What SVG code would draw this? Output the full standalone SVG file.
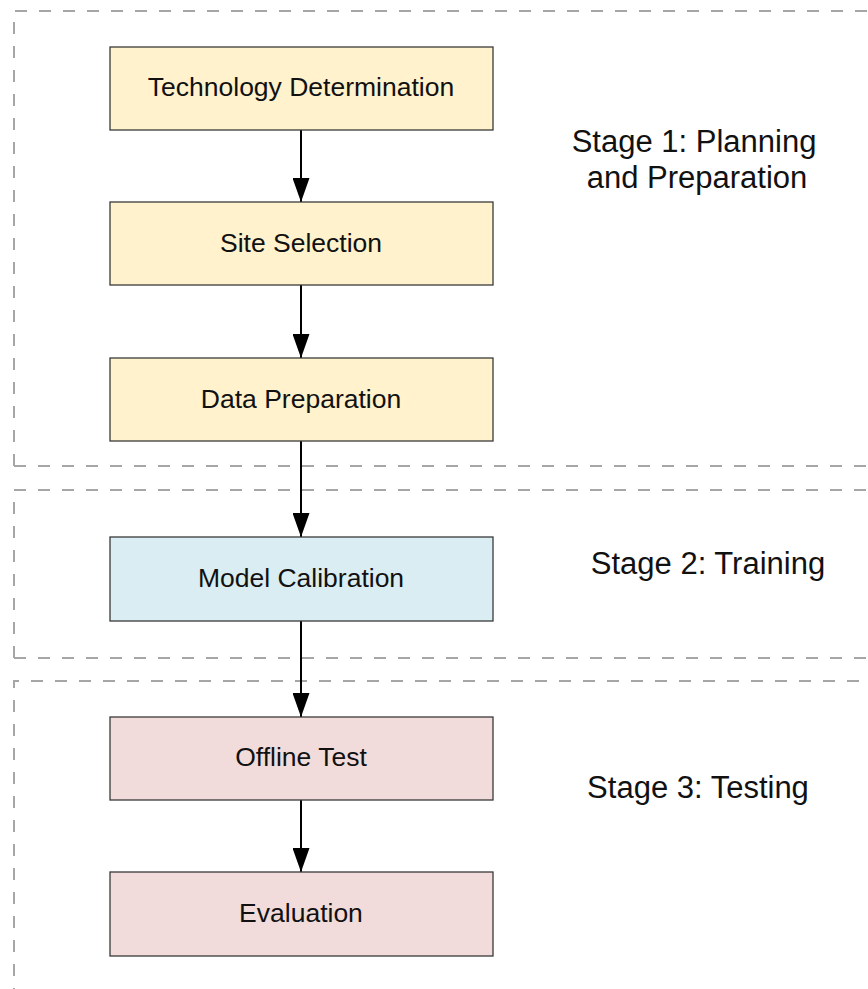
<svg xmlns="http://www.w3.org/2000/svg" width="868" height="989" viewBox="0 0 868 989">
<style>
.stage{fill:none;stroke:#a6a6a6;stroke-width:2;stroke-dasharray:12 12;}
.box{stroke:#3a3a3a;stroke-width:1.3;}
.y{fill:#fff2cc;}
.b{fill:#daedf2;}
.p{fill:#f2dcdb;}
.lbl{font-family:"Liberation Sans",Arial,sans-serif;font-size:26.5px;fill:#111;text-anchor:middle;}
.st{font-family:"Liberation Sans",Arial,sans-serif;font-size:31px;fill:#111;text-anchor:middle;}
.edge{stroke:#000;stroke-width:2;fill:none;marker-end:url(#ah);}
</style>
<defs>
<marker id="ah" markerUnits="userSpaceOnUse" markerWidth="24" markerHeight="17" refX="24" refY="8.5" orient="auto" viewBox="0 0 24 17">
<path d="M0,0 L24,8.5 L0,17 Z" fill="#000"/>
</marker>
</defs>
<rect width="868" height="989" fill="#fff"/>
<g id="stages">
<path class="stage" d="M14,466 L14,11 L900,11 M14,466 L900,466"/>
<path class="stage" d="M14,658 L14,490 L900,490 M14,658 L900,658"/>
<path class="stage" d="M14,1000 L14,681 L900,681"/>
</g>
<g id="stage-labels">
<text class="st" x="694" y="152">Stage 1: Planning</text>
<text class="st" x="697" y="188">and Preparation</text>
<text class="st" x="708" y="574">Stage 2: Training</text>
<text class="st" x="698" y="798">Stage 3: Testing</text>
</g>
<g id="connectors">
<line class="edge" x1="301" y1="130" x2="301" y2="202"/>
<line class="edge" x1="301" y1="285" x2="301" y2="358"/>
<line class="edge" x1="301" y1="441" x2="301" y2="537"/>
<line class="edge" x1="301" y1="621" x2="301" y2="717"/>
<line class="edge" x1="301" y1="800" x2="301" y2="872"/>
</g>
<g id="n1"><rect class="box y" x="110" y="47" width="383" height="83"/><text class="lbl" x="301" y="96">Technology Determination</text></g>
<g id="n2"><rect class="box y" x="110" y="202" width="383" height="83"/><text class="lbl" x="301" y="252">Site Selection</text></g>
<g id="n3"><rect class="box y" x="110" y="358" width="383" height="83"/><text class="lbl" x="301" y="408">Data Preparation</text></g>
<g id="n4"><rect class="box b" x="110" y="537" width="383" height="84"/><text class="lbl" x="301" y="587">Model Calibration</text></g>
<g id="n5"><rect class="box p" x="110" y="717" width="383" height="83"/><text class="lbl" x="301" y="766">Offline Test</text></g>
<g id="n6"><rect class="box p" x="110" y="872" width="383" height="84"/><text class="lbl" x="301" y="922">Evaluation</text></g>
</svg>
